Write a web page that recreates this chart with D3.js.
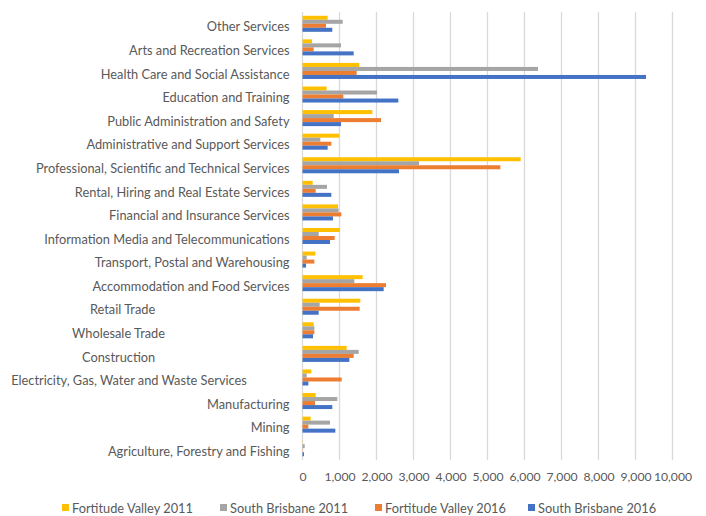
<!DOCTYPE html>
<html>
<head>
<meta charset="utf-8">
<script src="https://cdn.jsdelivr.net/npm/d3@7"></script>
<style>
  html, body { margin: 0; padding: 0; background: #fff; }
  svg text { font-family: Lato, "Liberation Sans", sans-serif; fill: #595959; white-space: pre; }
</style>
</head>
<body>
<svg id="chart" width="706" height="516"></svg>
<script>
// Employment by industry, Fortitude Valley vs South Brisbane
// (some industry names carry trailing blanks in the source table)
const categories = [
  "Other Services",
  "Arts and Recreation Services",
  "Health Care and Social Assistance",
  "Education and Training",
  "Public Administration and Safety",
  "Administrative and Support Services",
  "Professional, Scientific and Technical Services",
  "Rental, Hiring and Real Estate Services",
  "Financial and Insurance Services",
  "Information Media and Telecommunications",
  "Transport, Postal and Warehousing",
  "Accommodation and Food Services",
  "Retail Trade" + " ".repeat(41),
  "Wholesale Trade" + " ".repeat(38),
  "Construction" + " ".repeat(41),
  "Electricity, Gas, Water and Waste Services" + " ".repeat(13),
  "Manufacturing",
  "Mining",
  "Agriculture, Forestry and Fishing"
];

const seriesNames = [
  "Fortitude Valley 2011",
  "South Brisbane 2011",
  "Fortitude Valley 2016",
  "South Brisbane 2016"
];

const fortitudeValley2011 = [680, 257, 1536, 653, 1887, 995, 5897, 275, 959, 1014, 347, 1626, 1563, 302, 1194, 239, 356, 221, 5];
const southBrisbane2011   = [1085, 1040, 6365, 2014, 842, 482, 3149, 662, 977, 437, 113, 1401, 464, 320, 1518, 113, 941, 743, 60];
const fortitudeValley2016 = [635, 302, 1464, 1104, 2122, 780, 5347, 356, 1050, 869, 320, 2257, 1545, 320, 1383, 1059, 338, 158, 5];
const southBrisbane2016    = [805, 1383, 9284, 2590, 1040, 680, 2608, 779, 824, 743, 95, 2194, 437, 284, 1266, 158, 806, 887, 40];

const seriesValues = [fortitudeValley2011, southBrisbane2011, fortitudeValley2016, southBrisbane2016];
const seriesColors = ["#FFC000", "#A5A5A5", "#ED7D31", "#4472C4"];

const xTicks = [0, 1000, 2000, 3000, 4000, 5000, 6000, 7000, 8000, 9000, 10000];

const svg = d3.select("#chart");
const plot = { left: 302.5, right: 672.5, top: 12, bottom: 460 };
const fontSize = "12.8px";

const x = d3.scaleLinear().domain([0, 10000]).range([plot.left, plot.right]);
const y = d3.scaleBand().domain(categories).range([plot.top, plot.bottom]).padding(0);
const inner = d3.scaleBand().domain(seriesNames)
  .range([y.bandwidth() * 0.16, y.bandwidth() * 0.84]).padding(0);

// vertical gridlines
svg.append("g")
  .selectAll("line")
  .data(xTicks)
  .join("line")
  .attr("x1", d => x(d)).attr("x2", d => x(d))
  .attr("y1", plot.top).attr("y2", plot.bottom)
  .attr("stroke", "#d9d9d9").attr("stroke-width", 1.3);

// bars
const groups = svg.append("g")
  .selectAll("g")
  .data(categories)
  .join("g")
  .attr("transform", d => `translate(0,${y(d)})`);

groups.selectAll("rect")
  .data((c, i) => seriesNames.map((s, k) => ({ s, v: seriesValues[k][i], color: seriesColors[k] })))
  .join("rect")
  .attr("x", x(0))
  .attr("y", d => inner(d.s))
  .attr("width", d => x(d.v) - x(0))
  .attr("height", inner.bandwidth())
  .attr("fill", d => d.color);

// category axis
const yAxis = d3.axisLeft(y).tickSize(0).tickPadding(13);
const yg = svg.append("g").attr("transform", `translate(${plot.left},0)`).call(yAxis);
yg.select(".domain").remove();
yg.selectAll("text")
  .attr("xml:space", "preserve")
  .attr("dy", "0.6em")
  .style("font-size", fontSize)
  .style("font-family", "Lato, 'Liberation Sans', sans-serif")
  .attr("fill", "#595959");

// value axis
const xAxis = d3.axisBottom(x).tickValues(xTicks).tickSize(0).tickPadding(12.5)
  .tickFormat(d3.format(","));
const xg = svg.append("g").attr("transform", `translate(0,${plot.bottom})`).call(xAxis);
xg.select(".domain").remove();
xg.selectAll("text")
  .style("font-size", "12.2px")
  .style("font-family", "Lato, 'Liberation Sans', sans-serif")
  .attr("fill", "#595959");

// legend
const legendX = [62, 220, 375, 528];
const legend = svg.append("g")
  .selectAll("g")
  .data(seriesNames)
  .join("g")
  .attr("transform", (d, i) => `translate(${legendX[i]},504)`);
legend.append("rect")
  .attr("width", 7).attr("height", 7)
  .attr("fill", (d, i) => seriesColors[i]);
legend.append("text")
  .attr("x", 10).attr("y", 8.5)
  .style("font-size", fontSize)
  .text(d => d);
</script>
</body>
</html>
